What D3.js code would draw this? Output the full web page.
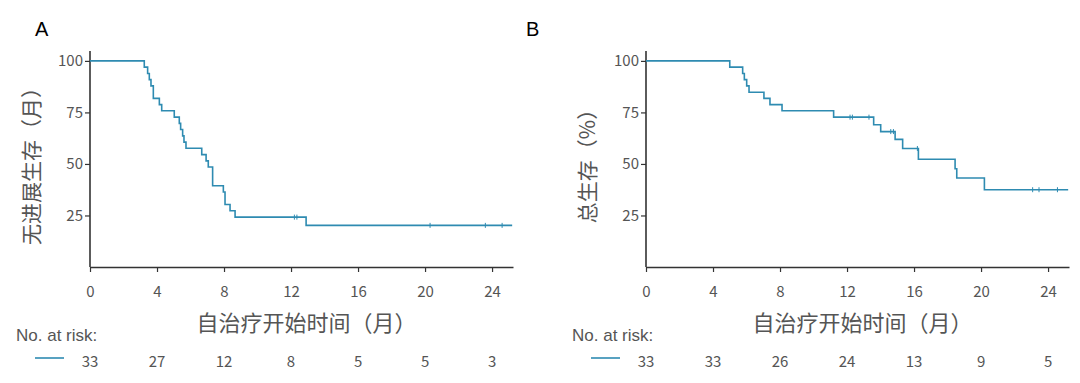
<!DOCTYPE html>
<html>
<head>
<meta charset="utf-8">
<script src="https://cdn.jsdelivr.net/npm/d3@7"></script>
<style>
  body { margin: 0; background: #fff; }
  svg text { font-family: "Noto Sans CJK SC", "Noto Sans", sans-serif; }
</style>
</head>
<body>
<svg id="chart" width="1080" height="383"></svg>
<script>
// data

const xTicks = [0, 4, 8, 12, 16, 20, 24];
const yTicks = [25, 50, 75, 100];

// panel A: progression-free survival
const pfsTimes = [0, 3.24, 3.44, 3.54, 3.64, 3.78, 4.14, 4.28, 5.03, 5.33, 5.41, 5.53, 5.61, 5.73, 6.67, 6.93, 7.06, 7.32, 7.96, 8.06, 8.36, 8.66, 12.9];
const pfsSurv = [100, 97.0, 93.9, 90.9, 87.9, 81.8, 78.8, 75.8, 72.7, 69.7, 66.7, 63.6, 60.6, 57.6, 54.5, 51.5, 48.5, 39.4, 36.4, 30.3, 27.3, 24.2, 20.2];
const pfsCensor = [12.2, 12.35, 20.3, 23.6, 24.6];
const pfsEnd = 25.2;
const pfsRisk = [33, 27, 12, 8, 5, 5, 3];

// panel B: overall survival
const osTimes = [0, 5.0, 5.77, 5.87, 6.01, 6.15, 7.04, 7.40, 8.12, 11.2, 13.59, 14.01, 14.87, 15.32, 16.26, 18.45, 18.55, 20.2];
const osSurv = [100, 97.0, 93.9, 90.9, 87.9, 84.8, 81.8, 78.8, 75.8, 72.7, 69.0, 65.7, 61.9, 57.5, 52.3, 47.7, 43.2, 37.5];
const osCensor = [12.18, 12.32, 13.31, 14.61, 14.77, 16.2, 23.08, 23.46, 24.56];
const osEnd = 25.2;
const osRisk = [33, 33, 26, 24, 13, 9, 5];

const lineColor = '#2e8bb1';
const axisColor = '#333';
const textColor = '#555';

const svg = d3.select('#chart');

function drawPanel(opt) {
  const x = d3.scaleLinear().domain([0, 25.25]).range([opt.left, opt.left + 423]);
  const y = d3.scaleLinear().domain([0, 104.8]).range([267, 51]);

  const g = svg.append('g');

  // panel letter
  g.append('text')
    .attr('x', opt.letterX).attr('y', 36)
    .attr('font-size', 20)
    .style('font-family', '"Liberation Sans", Arial, sans-serif')
    .attr('fill', '#000')
    .text(opt.letter);

  // axes
  const xAxis = g.append('g')
    .attr('transform', `translate(0,${y(0)})`)
    .call(d3.axisBottom(x).tickValues(xTicks).tickSize(5).tickPadding(14).tickSizeOuter(0));
  const yAxis = g.append('g')
    .attr('transform', `translate(${opt.left},0)`)
    .call(d3.axisLeft(y).tickValues(yTicks).tickSize(5).tickPadding(2).tickSizeOuter(0));

  [xAxis, yAxis].forEach(a => {
    a.select('.domain').attr('stroke', axisColor).attr('stroke-width', 1.6);
    a.selectAll('.tick line').attr('stroke', axisColor).attr('stroke-width', 1.2);
    a.selectAll('.tick text').attr('fill', textColor).attr('font-size', 15)
      .style('font-family', '"Noto Sans CJK SC", sans-serif');
  });
  // y axis line goes up a bit above 100
  yAxis.select('.domain').attr('d', `M0,${y(0)}V${y(104.8)}`);

  // axis titles
  g.append('text')
    .attr('transform', `translate(${opt.left - 51},${(y(0) + y(104.8)) / 2 + 2}) rotate(-90)`)
    .attr('text-anchor', 'middle')
    .attr('font-size', 21)
    .attr('fill', textColor)
    .text(opt.yTitle);

  g.append('text')
    .attr('x', (x(0) + x(25.25)) / 2 + 5)
    .attr('y', 331)
    .attr('text-anchor', 'middle')
    .attr('font-size', 22)
    .attr('fill', textColor)
    .text('自治疗开始时间（月）');

  // survival curve
  const pts = opt.times.map((t, i) => [t, opt.surv[i]]);
  pts.push([opt.end, opt.surv[opt.surv.length - 1]]);
  const line = d3.line()
    .x(d => x(d[0]))
    .y(d => y(d[1]))
    .curve(d3.curveStepAfter);
  g.append('path')
    .datum(pts)
    .attr('fill', 'none')
    .attr('stroke', lineColor)
    .attr('stroke-width', 1.6)
    .attr('d', line);

  // censor marks
  const survAt = t => {
    const i = d3.bisectRight(opt.times, t) - 1;
    return opt.surv[Math.max(0, i)];
  };
  g.selectAll('.censor')
    .data(opt.censor)
    .enter()
    .append('line')
    .attr('class', 'censor')
    .attr('x1', d => x(d)).attr('x2', d => x(d))
    .attr('y1', d => y(survAt(d)) - 2.5)
    .attr('y2', d => y(survAt(d)) + 2.5)
    .attr('stroke', lineColor)
    .attr('stroke-width', 1);

  // risk table
  g.append('text')
    .attr('x', opt.riskLabelX).attr('y', 341)
    .attr('font-size', 17)
    .style('font-family', '"Liberation Sans", Arial, sans-serif')
    .attr('fill', textColor)
    .text('No. at risk:');

  g.append('line')
    .attr('x1', opt.riskLabelX + 19).attr('x2', opt.riskLabelX + 48)
    .attr('y1', 358).attr('y2', 358)
    .attr('stroke', lineColor).attr('stroke-width', 1.6);

  g.selectAll('.risk')
    .data(opt.risk)
    .enter()
    .append('text')
    .attr('class', 'risk')
    .attr('x', (d, i) => x(xTicks[i]))
    .attr('y', 367)
    .attr('text-anchor', 'middle')
    .attr('font-size', 15)
    .attr('fill', textColor)
    .text(d => d);
}

drawPanel({
  letter: 'A', letterX: 35, left: 90,
  yTitle: '无进展生存（月）',
  times: pfsTimes, surv: pfsSurv, censor: pfsCensor, end: pfsEnd, risk: pfsRisk,
  riskLabelX: 16
});

drawPanel({
  letter: 'B', letterX: 526, left: 646,
  yTitle: '总生存（%）',
  times: osTimes, surv: osSurv, censor: osCensor, end: osEnd, risk: osRisk,
  riskLabelX: 572
});
</script>
</body>
</html>
